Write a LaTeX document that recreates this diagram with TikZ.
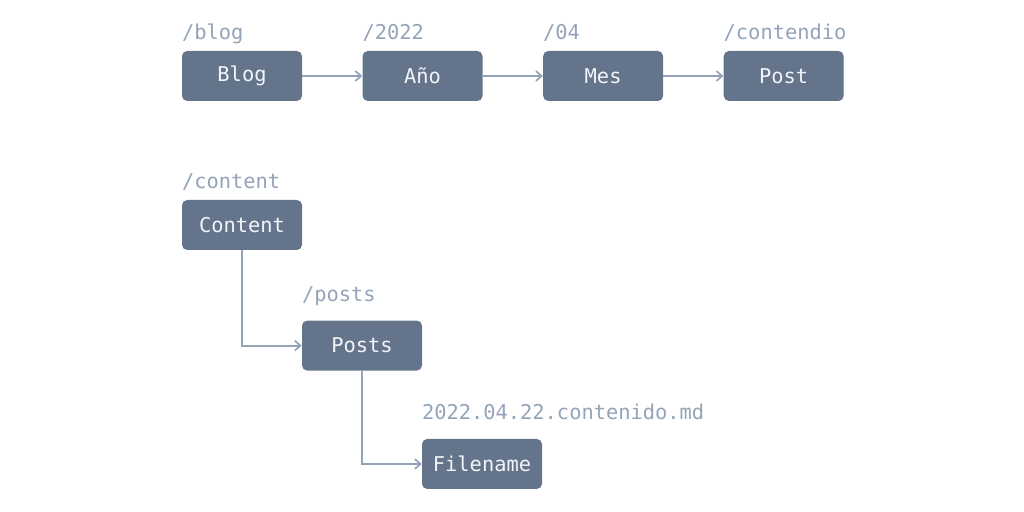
\documentclass[tikz,border=0pt]{standalone}
\usepackage{fontspec}
\usepackage{tikz}
\usetikzlibrary{arrows.meta,positioning,calc}
\newfontfamily\codefont{DejaVu Sans Mono}
\definecolor{slatebox}{HTML}{64748B}
\definecolor{slateline}{HTML}{94A3B8}
\definecolor{slatetext}{HTML}{F1F5F9}
\tikzset{
  page/.style={minimum width=3cm,minimum height=1.25cm,rounded corners=0.13cm,fill=slatebox,text=slatetext,inner sep=0pt},
  route/.style={text=slateline,inner sep=0pt,anchor=base west},
  link/.style={draw=slateline,line width=1.4pt,-{Straight Barb[length=4pt,width=7pt,line width=1.2pt]}}
}
\begin{document}
\begin{tikzpicture}[font=\codefont\fontsize{14.5}{17}\selectfont]
  \useasboundingbox (0,0) rectangle (25.6,12.8);
  % url
  \node[page] (blog) at (6.05,10.9) {Blog};
  \node[page,right=1.5cm of blog] (anio) {Año};
  \node[page,right=1.5cm of anio] (mes) {Mes};
  \node[page,right=1.5cm of mes] (post) {Post};
  \node[route] (blogurl) at ($(blog.north west)+(0,0.275)$) {/blog};
  \node[route] (aniourl) at ($(anio.north west)+(0,0.275)$) {/2022};
  \node[route] (mesurl) at ($(mes.north west)+(0,0.275)$) {/04};
  \node[route] (posturl) at ($(post.north west)+(0,0.275)$) {/contendio};
  \draw[link] (blog) -- (anio);
  \draw[link] (anio) -- (mes);
  \draw[link] (mes) -- (post);
  % folders
  \node[page] (content) at (6.05,7.175) {Content};
  \node[page] (posts) at (9.05,4.16) {Posts};
  \node[page] (file) at (12.05,1.2) {Filename};
  \node[route] (contentdir) at ($(content.north west)+(0,0.275)$) {/content};
  \node[route] (postsdir) at ($(posts.north west)+(0,0.475)$) {/posts};
  \node[route] (filename) at ($(file.north west)+(0,0.475)$) {2022.04.22.contenido.md};
  \draw[link] (content.south) |- (posts.west);
  \draw[link] (posts.south) |- (file.west);
\end{tikzpicture}
\end{document}
